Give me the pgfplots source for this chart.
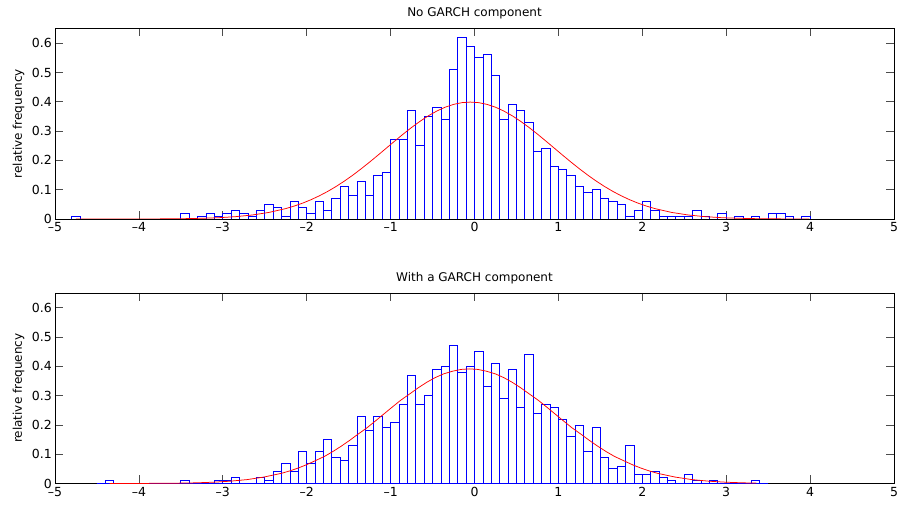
\documentclass[border=0pt]{standalone}
\usepackage{fontspec}
\setmainfont{DejaVu Sans}
\usepackage{pgfplots}
\pgfplotsset{compat=1.18}
\usepackage{pgfplotstable}

% histogram (left bin edges, relative frequency); last row closes the interval
\pgfplotstableread[row sep=\\]{
x y\\
-4.9 0\\ -4.8 0.01\\ -4.7 0\\ -4.6 0\\ -4.5 0\\ -4.4 0\\ -4.3 0\\ -4.2 0\\ -4.1 0\\ -4.0 0\\
-3.9 0\\ -3.8 0\\ -3.7 0\\ -3.6 0\\ -3.5 0.02\\ -3.4 0\\ -3.3 0.01\\ -3.2 0.02\\ -3.1 0.01\\ -3.0 0.02\\
-2.9 0.03\\ -2.8 0.02\\ -2.7 0.01\\ -2.6 0.03\\ -2.5 0.05\\ -2.4 0.04\\ -2.3 0.01\\ -2.2 0.06\\ -2.1 0.04\\ -2.0 0.02\\
-1.9 0.06\\ -1.8 0.03\\ -1.7 0.07\\ -1.6 0.11\\ -1.5 0.08\\ -1.4 0.13\\ -1.3 0.08\\ -1.2 0.15\\ -1.1 0.16\\ -1.0 0.27\\
-0.9 0.27\\ -0.8 0.37\\ -0.7 0.25\\ -0.6 0.35\\ -0.5 0.38\\ -0.4 0.34\\ -0.3 0.51\\ -0.2 0.62\\ -0.1 0.59\\ 0.0 0.55\\
0.1 0.56\\ 0.2 0.49\\ 0.3 0.34\\ 0.4 0.39\\ 0.5 0.37\\ 0.6 0.33\\ 0.7 0.23\\ 0.8 0.24\\ 0.9 0.18\\ 1.0 0.17\\
1.1 0.15\\ 1.2 0.11\\ 1.3 0.09\\ 1.4 0.10\\ 1.5 0.07\\ 1.6 0.06\\ 1.7 0.05\\ 1.8 0.01\\ 1.9 0.03\\ 2.0 0.06\\
2.1 0.03\\ 2.2 0.01\\ 2.3 0.01\\ 2.4 0.01\\ 2.5 0.01\\ 2.6 0.03\\ 2.7 0.01\\ 2.8 0\\ 2.9 0.02\\ 3.0 0\\
3.1 0.01\\ 3.2 0\\ 3.3 0.01\\ 3.4 0\\ 3.5 0.02\\ 3.6 0.02\\ 3.7 0.01\\ 3.8 0\\ 3.9 0.01\\ 4.0 0\\ 4.1 0\\
}\tophist

\pgfplotstableread[row sep=\\]{
x y\\
-4.5 0\\ -4.4 0.01\\ -4.3 0\\ -4.2 0\\ -4.1 0\\ -4.0 0\\ -3.9 0\\ -3.8 0\\ -3.7 0\\ -3.6 0\\
-3.5 0.01\\ -3.4 0\\ -3.3 0\\ -3.2 0\\ -3.1 0.01\\ -3.0 0.01\\ -2.9 0.02\\ -2.8 0\\ -2.7 0\\ -2.6 0.02\\
-2.5 0.01\\ -2.4 0.04\\ -2.3 0.07\\ -2.2 0.04\\ -2.1 0.11\\ -2.0 0.07\\ -1.9 0.11\\ -1.8 0.15\\ -1.7 0.09\\ -1.6 0.08\\
-1.5 0.13\\ -1.4 0.23\\ -1.3 0.18\\ -1.2 0.23\\ -1.1 0.19\\ -1.0 0.21\\ -0.9 0.27\\ -0.8 0.37\\ -0.7 0.27\\ -0.6 0.30\\
-0.5 0.39\\ -0.4 0.40\\ -0.3 0.47\\ -0.2 0.38\\ -0.1 0.40\\ 0.0 0.45\\ 0.1 0.33\\ 0.2 0.41\\ 0.3 0.29\\ 0.4 0.39\\
0.5 0.26\\ 0.6 0.44\\ 0.7 0.24\\ 0.8 0.27\\ 0.9 0.26\\ 1.0 0.22\\ 1.1 0.16\\ 1.2 0.20\\ 1.3 0.11\\ 1.4 0.19\\
1.5 0.09\\ 1.6 0.05\\ 1.7 0.06\\ 1.8 0.13\\ 1.9 0.03\\ 2.0 0.03\\ 2.1 0.04\\ 2.2 0.02\\ 2.3 0.01\\ 2.4 0\\
2.5 0.03\\ 2.6 0.01\\ 2.7 0\\ 2.8 0.01\\ 2.9 0\\ 3.0 0\\ 3.1 0\\ 3.2 0\\ 3.3 0.01\\ 3.4 0\\ 3.5 0\\
}\bothist

% fitted normal densities
\pgfplotstableread[row sep=\\]{
x y\\
-4.75 0.0000\\ -4.35 0.0000\\ -4.05 0.0001\\ -3.75 0.0004\\ -3.45 0.0012\\ -3.25 0.0024\\ -3.05 0.0044\\
-2.85 0.0079\\ -2.65 0.0136\\ -2.45 0.0224\\ -2.25 0.0355\\ -2.15 0.0440\\ -2.05 0.0540\\ -1.95 0.0656\\
-1.85 0.0790\\ -1.75 0.0940\\ -1.65 0.1109\\ -1.55 0.1295\\ -1.45 0.1497\\ -1.35 0.1714\\ -1.25 0.1942\\
-1.15 0.2179\\ -1.05 0.2420\\ -0.95 0.2661\\ -0.85 0.2897\\ -0.75 0.3123\\ -0.65 0.3332\\ -0.55 0.3521\\
-0.45 0.3683\\ -0.35 0.3814\\ -0.25 0.3910\\ -0.15 0.3970\\ -0.05 0.3989\\ 0.05 0.3970\\ 0.15 0.3910\\
0.25 0.3814\\ 0.35 0.3683\\ 0.45 0.3521\\ 0.55 0.3332\\ 0.65 0.3123\\ 0.75 0.2897\\ 0.85 0.2661\\
0.95 0.2420\\ 1.05 0.2179\\ 1.15 0.1942\\ 1.25 0.1714\\ 1.35 0.1497\\ 1.45 0.1295\\ 1.55 0.1109\\
1.65 0.0940\\ 1.75 0.0790\\ 1.85 0.0656\\ 1.95 0.0540\\ 2.05 0.0440\\ 2.15 0.0355\\ 2.35 0.0224\\
2.55 0.0136\\ 2.75 0.0079\\ 2.95 0.0044\\ 3.15 0.0024\\ 3.35 0.0012\\ 3.65 0.0004\\ 3.99 0.0001\\
}\topfit

\pgfplotstableread[row sep=\\]{
x y\\
-4.35 0.0001\\ -4.14 0.0001\\ -3.73 0.0006\\ -3.53 0.0012\\ -3.32 0.0023\\ -3.12 0.0043\\ -2.92 0.0077\\
-2.71 0.0133\\ -2.51 0.0220\\ -2.30 0.0348\\ -2.20 0.0431\\ -2.10 0.0529\\ -2.00 0.0643\\ -1.90 0.0775\\
-1.79 0.0922\\ -1.69 0.1087\\ -1.59 0.1270\\ -1.49 0.1468\\ -1.39 0.1680\\ -1.28 0.1904\\ -1.18 0.2136\\
-1.08 0.2373\\ -0.98 0.2609\\ -0.88 0.2840\\ -0.77 0.3062\\ -0.67 0.3267\\ -0.57 0.3452\\ -0.47 0.3611\\
-0.37 0.3739\\ -0.26 0.3833\\ -0.16 0.3892\\ -0.06 0.3911\\ 0.04 0.3892\\ 0.14 0.3833\\ 0.25 0.3739\\
0.35 0.3611\\ 0.45 0.3452\\ 0.55 0.3267\\ 0.65 0.3062\\ 0.76 0.2840\\ 0.86 0.2609\\ 0.96 0.2373\\
1.06 0.2136\\ 1.16 0.1904\\ 1.27 0.1680\\ 1.37 0.1468\\ 1.47 0.1270\\ 1.57 0.1087\\ 1.67 0.0922\\
1.78 0.0775\\ 1.88 0.0643\\ 1.98 0.0529\\ 2.08 0.0431\\ 2.18 0.0348\\ 2.39 0.0220\\ 2.59 0.0133\\
2.80 0.0077\\ 3.00 0.0043\\ 3.20 0.0023\\ 3.36 0.0014\\
}\botfit

\pgfplotsset{
  hstyle/.style={
    scale only axis, width=839pt, height=190.5pt,
    xmin=-5, xmax=5, ymin=0, ymax=0.65,
    xtick={-5,-4,-3,-2,-1,0,1,2,3,4,5},
    xticklabels={–5,–4,–3,–2,–1,0,1,2,3,4,5},
    ytick={0,0.1,0.2,0.3,0.4,0.5,0.6},
    yticklabels={0,0.1,0.2,0.3,0.4,0.5,0.6},
    tick align=inside, major tick length=8pt,
    tick style={black!70, line width=0.7pt},
    axis line style={black, line width=0.8pt},
    ticklabel style={font=\fontsize{12.5}{14}\selectfont},
    xticklabel style={yshift=-1pt, inner sep=2.5pt},
    yticklabel style={xshift=-0.5pt, inner sep=2.5pt},
    every axis title/.style={at={(0.5,1)}, anchor=base, yshift=11.5pt, inner sep=0pt, font=\fontsize{12}{14}\selectfont},
    every axis y label/.style={at={(axis description cs:-0.0435,0.5)}, rotate=90, anchor=center, font=\fontsize{12}{14}\selectfont},
    ylabel={relative frequency},
  },
  hbars/.style={ybar interval, draw=blue, fill=none, line width=0.75pt},
  hfit/.style={red, line width=0.75pt, mark=none},
}

\begin{document}
\begin{tikzpicture}
\path[use as bounding box] (0,0) rectangle (902pt,508pt);
\begin{axis}[hstyle, at={(55pt,289pt)}, anchor=south west, title={No GARCH component}]
  \addplot[hbars] table[x=x, y=y] {\tophist};
  \addplot[hfit] table[x=x, y=y] {\topfit};
\end{axis}
\begin{axis}[hstyle, at={(55pt,24.5pt)}, anchor=south west, title={With a GARCH component}]
  \addplot[hbars] table[x=x, y=y] {\bothist};
  \addplot[hfit] table[x=x, y=y] {\botfit};
\end{axis}
\end{tikzpicture}
\end{document}
